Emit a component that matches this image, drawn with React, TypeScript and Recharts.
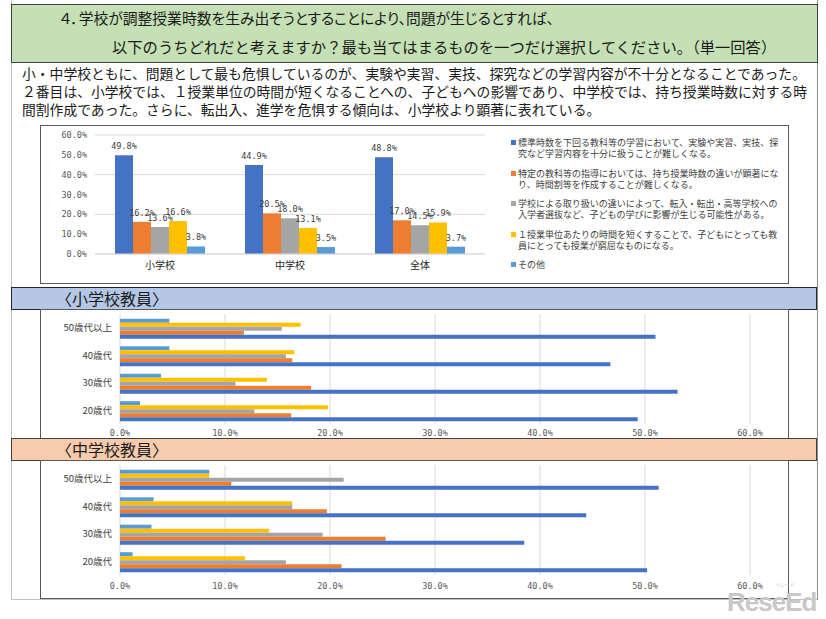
import React from "react";
import { BarChart, Bar, XAxis, YAxis, CartesianGrid, LabelList } from "recharts";

// categories
const schools = ["小学校", "中学校", "全体"];
const ageGroups = ["50歳代以上", "40歳代", "30歳代", "20歳代"];
const pctTicks = [0, 10, 20, 30, 40, 50, 60];

// series (legend text keeps the reference's line breaks)
const seriesKeys = ["standard", "timetable", "transfer", "cramped", "other"];
const seriesNames = [
  "標準時数を下回る教科等の学習において、実験や実習、実技、探\n究など学習内容を十分に扱うことが難しくなる。",
  "特定の教科等の指導においては、持ち授業時数の違いが顕著にな\nり、時間割等を作成することが難しくなる。",
  "学校による取り扱いの違いによって、転入・転出・高等学校への\n入学者選抜など、子どもの学びに影響が生じる可能性がある。",
  "１授業単位あたりの時間を短くすることで、子どもにとっても教\n員にとっても授業が窮屈なものになる。",
  "その他",
];
const seriesColors = ["#4472c4", "#ed7d31", "#a5a5a5", "#ffc000", "#5b9bd5"];

// 全体比較（小学校・中学校・全体）
const schoolStandard = [49.8, 44.9, 48.8];
const schoolTimetable = [16.2, 20.5, 17.0];
const schoolTransfer = [13.6, 18.0, 14.5];
const schoolCramped = [16.6, 13.1, 15.9];
const schoolOther = [3.8, 3.5, 3.7];

// 小学校教員（年代別）
const elemStandard = [51.0, 46.7, 53.1, 49.3];
const elemTimetable = [11.8, 16.4, 18.2, 16.3];
const elemTransfer = [15.4, 15.8, 11.0, 12.8];
const elemCramped = [17.2, 16.6, 14.0, 19.8];
const elemOther = [4.7, 4.7, 3.9, 1.9];

// 中学校教員（年代別）
const midStandard = [51.3, 44.4, 38.5, 50.2];
const midTimetable = [10.6, 19.7, 25.3, 21.1];
const midTransfer = [21.3, 16.4, 19.3, 15.8];
const midCramped = [8.5, 16.4, 14.2, 11.9];
const midOther = [8.5, 3.2, 3.0, 1.2];

const build = (names: string[], cols: number[][]) =>
  names.map((name, i) => {
    const row: Record<string, string | number> = { name };
    seriesKeys.forEach((k, j) => (row[k] = cols[j][i]));
    return row;
  });

const schoolData = build(schools, [schoolStandard, schoolTimetable, schoolTransfer, schoolCramped, schoolOther]);
const elemData = build(ageGroups, [elemStandard, elemTimetable, elemTransfer, elemCramped, elemOther]);
const midData = build(ageGroups, [midStandard, midTimetable, midTransfer, midCramped, midOther]);

const fmt = (v: number) => `${Number(v).toFixed(1)}%`;
const JP = "'Noto Sans CJK JP', 'Noto Sans', sans-serif";
const MONO = "'DejaVu Sans Mono', 'Liberation Mono', monospace";

const abs = (left: number, top: number, width: number, height: number): React.CSSProperties => ({
  position: "absolute",
  left,
  top,
  width,
  height,
  boxSizing: "border-box",
});

const AgeChart = ({
  data,
  height,
  axisHeight,
  tickSize,
}: {
  data: Record<string, string | number>[];
  height: number;
  axisHeight: number;
  tickSize: number;
}) => (
  <BarChart
    layout="vertical"
    width={748}
    height={height}
    data={data}
    margin={{ top: 4, right: 38, left: 0, bottom: 0 }}
    barGap={0}
    barCategoryGap="17%"
  >
    <CartesianGrid horizontal={false} stroke="#d9d9d9" />
    <XAxis
      type="number"
      domain={[0, 60]}
      ticks={pctTicks}
      tickFormatter={fmt}
      axisLine={false}
      tickLine={false}
      tickSize={tickSize}
      height={axisHeight}
      tick={{ fontSize: 8.5, fill: "#595959", fontFamily: MONO }}
    />
    <YAxis
      type="category"
      dataKey="name"
      width={80}
      axisLine={false}
      tickLine={false}
      tick={{ fontSize: 9.5, fill: "#404040", fontFamily: JP }}
    />
    {[...seriesKeys].reverse().map((k) => (
      <Bar key={k} dataKey={k} fill={seriesColors[seriesKeys.indexOf(k)]} isAnimationActive={false} />
    ))}
  </BarChart>
);

export default function App() {
  return (
    <div style={{ position: "relative", width: 826, height: 619, background: "#fff", fontFamily: JP, overflow: "hidden" }}>
      <style>{"body{margin:0}"}</style>

      {/* outer frame */}
      <div style={{ ...abs(11, 0, 807, 600), borderLeft: "1px solid #bfbfbf", borderRight: "1px solid #8c8c8c", borderBottom: "1px solid #bfbfbf" }} />

      {/* title */}
      <div style={{ ...abs(11, 4, 807, 59), background: "#c5e0b4", border: "1px solid #404040" }} />
      <div style={{ position: "absolute", left: 60, top: 4, fontSize: 14.8, lineHeight: "28px", color: "#1a1a1a", whiteSpace: "nowrap", fontFeatureSettings: '"palt"' }}>
        ４．学校が調整授業時数を生み出そうとすることにより、問題が生じるとすれば、
      </div>
      <div style={{ position: "absolute", left: 112, top: 32, fontSize: 15.3, lineHeight: "28px", color: "#1a1a1a", whiteSpace: "nowrap" }}>
        以下のうちどれだと考えますか？最も当てはまるものを一つだけ選択してください。（単一回答）
      </div>

      {/* summary */}
      <div style={{ position: "absolute", left: 22, top: 64, fontSize: 13.8, lineHeight: "18px", color: "#1a1a1a", whiteSpace: "nowrap" }}>
        <div>小・中学校ともに、問題として最も危惧しているのが、実験や実習、実技、探究などの学習内容が不十分となることであった。</div>
        <div>２番目は、小学校では、１授業単位の時間が短くなることへの、子どもへの影響であり、中学校では、持ち授業時数に対する時</div>
        <div>間割作成であった。さらに、転出入、進学を危惧する傾向は、小学校より顕著に表れている。</div>
      </div>

      {/* top chart */}
      <div style={{ ...abs(40, 125, 749, 159), border: "1px solid #595959" }} />
      <div style={{ position: "absolute", left: 40, top: 125 }}>
        <BarChart
          width={455}
          height={154}
          data={schoolData}
          margin={{ top: 10, right: 10, left: 0, bottom: 0 }}
          barGap={0}
          barCategoryGap={20}
        >
          <CartesianGrid vertical={false} stroke="#d9d9d9" />
          <XAxis
            dataKey="name"
            height={25}
            tickLine={false}
            axisLine={{ stroke: "#d9d9d9" }}
            tick={{ fontSize: 10, fill: "#262626", fontFamily: JP }}
          />
          <YAxis
            domain={[0, 60]}
            ticks={pctTicks}
            tickFormatter={fmt}
            width={55}
            axisLine={false}
            tickLine={false}
            tick={{ fontSize: 8.5, fill: "#595959", fontFamily: MONO }}
          />
          {seriesKeys.map((k, i) => (
            <Bar key={k} dataKey={k} fill={seriesColors[i]} isAnimationActive={false}>
              <LabelList
                dataKey={k}
                position="top"
                offset={6}
                formatter={(v: number) => fmt(v)}
                style={{ fontSize: 8.5, fill: "#404040", fontFamily: MONO }}
              />
            </Bar>
          ))}
        </BarChart>
      </div>
      <div style={{ position: "absolute", left: 511, top: 137, width: 272, fontSize: 9, lineHeight: "11px", color: "#404040" }}>
        {seriesNames.map((n, i) => (
          <div key={n} style={{ display: "flex", marginBottom: 8.5 }}>
            <span style={{ width: 5, height: 5, background: seriesColors[i], marginTop: 3, marginRight: 2, flex: "none" }} />
            <span style={{ whiteSpace: "pre" }}>{n}</span>
          </div>
        ))}
      </div>

      {/* 小学校教員 */}
      <div style={{ ...abs(11, 287, 806, 23), background: "#b4c7e7", border: "1px solid #262626" }} />
      <div style={{ position: "absolute", left: 56, top: 287, fontSize: 16, lineHeight: "22px", color: "#1a1a1a" }}>〈小学校教員〉</div>
      <div style={{ ...abs(40, 309, 749, 131), border: "1px solid #595959" }} />
      <div style={{ position: "absolute", left: 40, top: 310 }}>
        <AgeChart data={elemData} height={130} axisHeight={16} tickSize={4} />
      </div>

      {/* 中学校教員 */}
      <div style={{ ...abs(11, 438, 806, 23), background: "#f8cbad", border: "1px solid #404040" }} />
      <div style={{ position: "absolute", left: 56, top: 439, fontSize: 16, lineHeight: "21px", color: "#1a1a1a" }}>〈中学校教員〉</div>
      <div style={{ ...abs(40, 460, 749, 139), border: "1px solid #595959" }} />
      <div style={{ position: "absolute", left: 40, top: 461 }}>
        <AgeChart data={midData} height={137} axisHeight={23} tickSize={6} />
      </div>

      {/* watermark */}
      <div style={{ position: "absolute", left: 775, top: 581, fontSize: 5, lineHeight: "6px", color: "#c0c0c0" }}>リシード</div>
      <div style={{ position: "absolute", left: 727, top: 588, fontSize: 26, fontWeight: 700, color: "#c8c8c8", fontFamily: "'Liberation Sans', sans-serif", letterSpacing: -1, lineHeight: "28px" }}>
        ReseEd
      </div>
    </div>
  );
}
